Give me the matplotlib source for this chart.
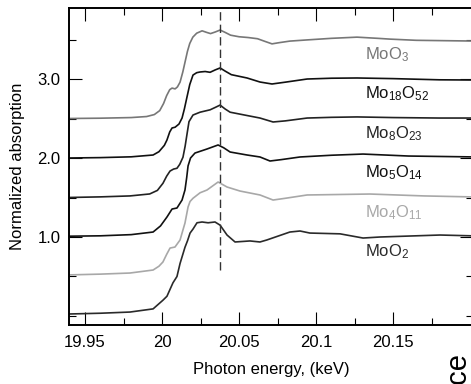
import numpy as np
import matplotlib
matplotlib.use('Agg')
from matplotlib import pyplot as plt

plt.rcParams['font.family'] = ['Liberation Sans', 'DejaVu Sans']
plt.rcParams['mathtext.default'] = 'regular'

# normalized Mo K-edge XANES, one spectrum per oxide (before stacking)
names = ['MoO$_3$', 'Mo$_{18}$O$_{52}$', 'Mo$_8$O$_{23}$', 'Mo$_5$O$_{14}$',
         'Mo$_4$O$_{11}$', 'MoO$_2$']
offsets = [2.5, 2.0, 1.5, 1.0, 0.5, 0.0]
colors = ['#777777', '#111111', '#222222', '#111111', '#a8a8a8', '#2a2a2a']

e_moo3 = [19.939, 19.96, 19.98, 19.99, 19.995, 19.9985, 20.001, 20.003, 20.005,
          20.0065, 20.0085, 20.010, 20.0117, 20.0135, 20.015, 20.0165, 20.018,
          20.020, 20.0225, 20.026, 20.029, 20.0315, 20.0345, 20.0377, 20.041,
          20.0445, 20.050, 20.056, 20.062, 20.067, 20.0714, 20.076, 20.083,
          20.0942, 20.11, 20.1266, 20.14, 20.1481, 20.165, 20.185, 20.205]
a_moo3 = [0.00, 0.004, 0.012, 0.025, 0.05, 0.10, 0.19, 0.29, 0.365,
          0.385, 0.375, 0.40, 0.46, 0.59, 0.72, 0.85, 0.95,
          1.03, 1.08, 1.11, 1.09, 1.075, 1.095, 1.12, 1.09,
          1.055, 1.035, 1.025, 1.01, 0.975, 0.945, 0.96, 0.98,
          0.995, 1.015, 1.03, 1.015, 1.005, 0.99, 0.985, 0.98]

e_mo18 = [19.939, 19.96, 19.98, 19.9942, 19.998, 20.0015, 20.0032, 20.005,
          20.0065, 20.0085, 20.011, 20.013, 20.0145, 20.0162, 20.018, 20.0201,
          20.0225, 20.0247, 20.028, 20.0312, 20.0345, 20.0377, 20.041, 20.045,
          20.0552, 20.0636, 20.0714, 20.08, 20.0942, 20.11, 20.1266, 20.15,
          20.18, 20.205]
a_mo18 = [0.00, 0.005, 0.015, 0.038, 0.08, 0.16, 0.228, 0.33,
          0.38, 0.39, 0.43, 0.506, 0.62, 0.772, 0.93, 1.05,
          1.08, 1.089, 1.095, 1.085, 1.115, 1.14, 1.10, 1.055,
          1.013, 0.962, 0.937, 0.96, 1.0, 1.01, 1.013, 1.005,
          0.99, 0.987]

e_mo8 = [19.939, 19.96, 19.9792, 19.992, 19.997, 20.0006, 20.003, 20.0052,
         20.0075, 20.0097, 20.0115, 20.0136, 20.015, 20.0162, 20.0175, 20.0201,
         20.0247, 20.0312, 20.0345, 20.0377, 20.041, 20.0442, 20.0536, 20.0636,
         20.0721, 20.08, 20.0942, 20.11, 20.1266, 20.15, 20.18, 20.205]
a_mo8 = [0.00, 0.008, 0.02, 0.045, 0.09, 0.18, 0.27, 0.335,
         0.36, 0.37, 0.42, 0.51, 0.65, 0.80, 0.96, 1.044,
         1.08, 1.11, 1.14, 1.17, 1.12, 1.08, 1.044, 1.006,
         0.956, 0.97, 1.006, 1.015, 1.02, 1.012, 1.006, 1.006]

e_mo5 = [19.939, 19.96, 19.98, 19.9942, 19.999, 20.0032, 20.0065, 20.0097,
         20.013, 20.0149, 20.016, 20.0169, 20.0185, 20.0214, 20.0292, 20.0364,
         20.040, 20.0442, 20.0552, 20.0636, 20.0701, 20.0776, 20.0896, 20.11,
         20.1305, 20.16, 20.205]
a_mo5 = [0.01, 0.015, 0.03, 0.063, 0.14, 0.253, 0.354, 0.367,
         0.468, 0.595, 0.75, 0.90, 1.0, 1.063, 1.114, 1.165,
         1.13, 1.076, 1.038, 1.013, 0.962, 0.98, 1.013, 1.035,
         1.05, 1.025, 1.013]

e_mo4 = [19.939, 19.96, 19.9792, 19.9942, 19.998, 20.0006, 20.003, 20.0052,
         20.0084, 20.0117, 20.0136, 20.0149, 20.0169, 20.0182, 20.0201, 20.0247,
         20.0292, 20.0364, 20.0422, 20.0506, 20.0636, 20.0721, 20.08, 20.0942,
         20.135, 20.17, 20.205]
a_mo4 = [0.02, 0.03, 0.044, 0.082, 0.13, 0.184, 0.28, 0.36,
         0.373, 0.462, 0.59, 0.677, 0.88, 0.95, 0.99, 1.06,
         1.095, 1.196, 1.133, 1.082, 1.032, 0.968, 0.99, 1.032,
         1.044, 1.02, 1.006]

e_moo2 = [19.939, 19.96, 19.9792, 19.9942, 20.0006, 20.0032, 20.0071, 20.0097,
          20.0117, 20.0149, 20.0165, 20.0182, 20.0201, 20.0227, 20.026, 20.0299,
          20.0344, 20.0377, 20.0422, 20.0474, 20.0571, 20.0636, 20.068, 20.083,
          20.0896, 20.096, 20.1156, 20.1305, 20.1416, 20.1805, 20.205]
a_moo2 = [0.025, 0.035, 0.05, 0.09, 0.2, 0.25, 0.42, 0.50,
          0.665, 0.87, 0.95, 1.05, 1.10, 1.18, 1.19, 1.18,
          1.19, 1.15, 1.025, 0.937, 0.95, 0.937, 0.962, 1.063,
          1.076, 1.05, 1.04, 0.987, 1.0, 1.025, 1.013]

energies = [e_moo3, e_mo18, e_mo8, e_mo5, e_mo4, e_moo2]
spectra = [a_moo3, a_mo18, a_mo8, a_mo5, a_mo4, a_moo2]

edge_energy = 20.0377
label_energy = 20.1318

fig = plt.figure(figsize=(4.71, 3.84), dpi=100)
ax = fig.add_axes([69 / 471, 59 / 384, 404 / 471, 317 / 384])

for e, a, off, c, name in zip(energies, spectra, offsets, colors, names):
    ax.plot(e, np.array(a) + off, color=c, lw=1.2, solid_joinstyle='round')
    ax.text(label_energy, off + 0.81, name, color=c, fontsize=12,
            ha='left', va='center')

ax.vlines(edge_energy, 0.58, 3.9, colors='#333333', linestyles=(0, (6, 3)),
          lw=1.0)

ax.set_xlim(19.9396, 20.2019)
ax.set_ylim(-0.114, 3.899)
ax.set_xticks([19.95, 20.0, 20.05, 20.1, 20.15])
ax.set_xticklabels(['19.95', '20', '20.05', '20.1', '20.15'])
ax.set_xticks(np.arange(19.95, 20.2, 0.05) + 0.025, minor=True)
ax.set_yticks([1.0, 2.0, 3.0])
ax.set_yticklabels(['1.0', '2.0', '3.0'])
ax.set_yticks([0.0, 0.5, 1.5, 2.5, 3.5], minor=True)

ax.tick_params(which='both', direction='in', top=True, right=True,
               width=0.8, labelsize=12)
ax.tick_params(which='major', length=9.4)
ax.tick_params(which='minor', length=5)
ax.tick_params(axis='x', pad=7)
ax.tick_params(axis='y', pad=6)
for s in ax.spines.values():
    s.set_linewidth(1.4)

ax.set_xlabel('Photon energy, (keV)', fontsize=12, labelpad=9)
ax.set_ylabel('Normalized absorption', fontsize=12, labelpad=9)

# rotated axis title of the neighbouring panel, cut by the figure edge
fig.text(457 / 471, 1 - 352 / 384, 'nce', rotation=90, fontsize=21,
         ha='center', va='top')

plt.savefig('out.png', dpi=100)
plt.close()
